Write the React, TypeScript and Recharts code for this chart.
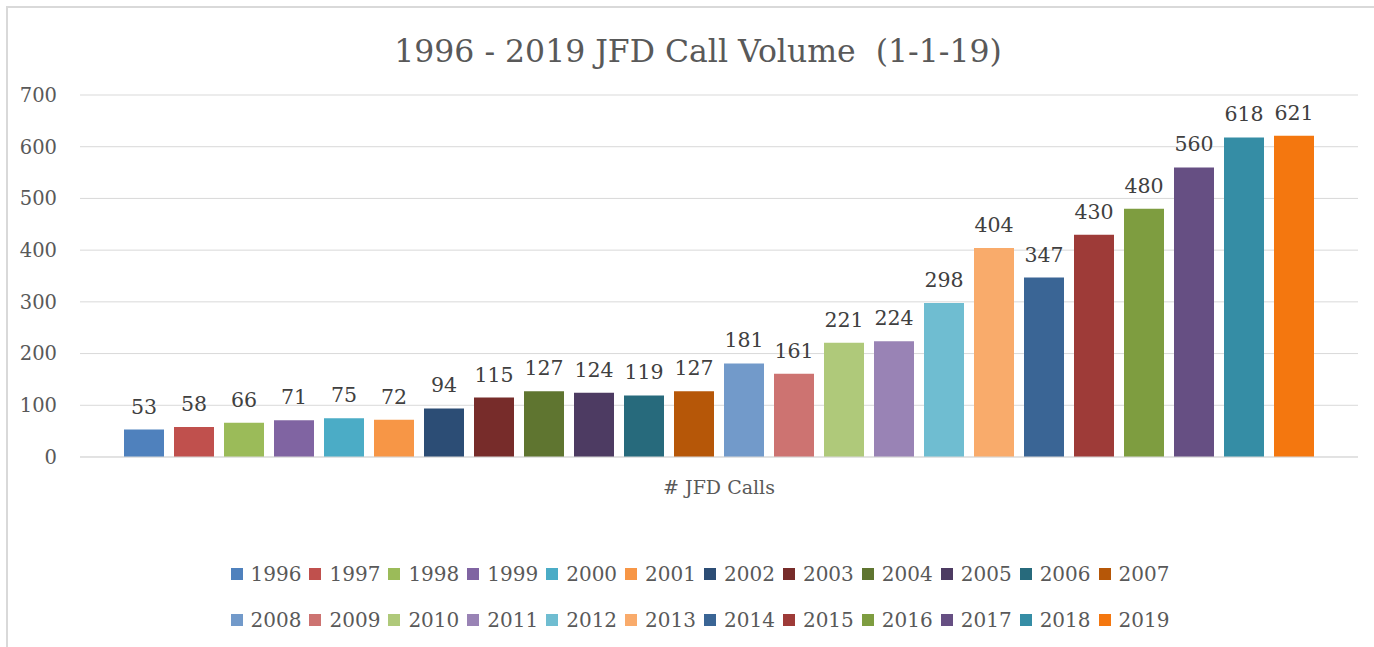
import React from 'react';
import { BarChart, Bar, XAxis, YAxis, CartesianGrid, LabelList } from 'recharts';

const years = [
  '1996', '1997', '1998', '1999', '2000', '2001', '2002', '2003', '2004', '2005', '2006', '2007',
  '2008', '2009', '2010', '2011', '2012', '2013', '2014', '2015', '2016', '2017', '2018', '2019',
];

const calls = [53, 58, 66, 71, 75, 72, 94, 115, 127, 124, 119, 127, 181, 161, 221, 224, 298, 404, 347, 430, 480, 560, 618, 621];

const colors = [
  '#4F81BD', '#C0504D', '#9BBB59', '#8064A2', '#4BACC6', '#F79646',
  '#2C4D75', '#772C2A', '#5F7530', '#4D3B62', '#276A7C', '#B65708',
  '#729ACA', '#CD7371', '#AFC97A', '#9983B5', '#6FBDD1', '#F9AB6B',
  '#3A6595', '#9E3B38', '#7E9D40', '#664F83', '#358DA5', '#F4770F',
];

const yTicks = [0, 100, 200, 300, 400, 500, 600, 700];

const category = '# JFD Calls';

const font = '"DejaVu Serif", serif';
const textColor = '#595959';

// one category row, one key per year
const row: Record<string, string | number> = { name: category };
years.forEach((y, i) => {
  row[y] = calls[i];
});
const data = [row];

export default function App() {
  return (
    <div
      style={{
        position: 'fixed',
        left: 0,
        top: 0,
        width: 1374,
        height: 647,
        overflow: 'hidden',
        background: '#fff',
        fontFamily: font,
      }}
    >
      <div
        style={{
          position: 'absolute',
          left: 6,
          top: 6,
          width: 1384,
          height: 700,
          border: '2px solid #d9d9d9',
          boxSizing: 'border-box',
        }}
      >
        {/* Title */}
        <div
          style={{
            position: 'absolute',
            left: 0,
            top: 26,
            width: 1380,
            textAlign: 'center',
            fontSize: 31.5,
            lineHeight: '34px',
            color: textColor,
            whiteSpace: 'pre',
          }}
        >
          {'1996 - 2019 JFD Call Volume  (1-1-19)'}
        </div>

        <div style={{ position: 'absolute', left: 0, top: 0 }}>
          <BarChart
            width={1380}
            height={560}
            data={data}
            margin={{ top: 87, right: 30, left: 0, bottom: 51 }}
            barSize={40}
            barGap={10}
          >
            <CartesianGrid vertical={false} stroke="#d9d9d9" strokeWidth={1} />
            <XAxis
              dataKey="name"
              axisLine={{ stroke: '#d9d9d9' }}
              tickLine={false}
              tickSize={0}
              tickMargin={24}
              height={60}
              tick={{ fontSize: 19, fill: textColor, fontFamily: font }}
            />
            <YAxis
              domain={[0, 700]}
              ticks={yTicks}
              width={72}
              axisLine={false}
              tickLine={false}
              tickSize={0}
              tickMargin={23}
              tick={{ fontSize: 19.5, fill: textColor, fontFamily: font }}
            />
            {years.map((y, i) => (
              <Bar key={y} dataKey={y} name={y} fill={colors[i]} isAnimationActive={false}>
                <LabelList
                  dataKey={y}
                  position="top"
                  offset={16}
                  style={{ fontSize: 20.5, fill: '#404040', fontFamily: font }}
                />
              </Bar>
            ))}
          </BarChart>
        </div>

        {/* Legend */}
        <div
          style={{
            position: 'absolute',
            left: 6,
            top: 552,
            width: 1380,
            display: 'flex',
            justifyContent: 'center',
          }}
        >
          <div style={{ width: 950, display: 'flex', flexWrap: 'wrap', justifyContent: 'center', rowGap: 18 }}>
            {years.map((y, i) => (
              <span
                key={y}
                style={{
                  display: 'inline-flex',
                  alignItems: 'center',
                  marginRight: 8,
                  height: 28,
                  fontSize: 20,
                  color: textColor,
                }}
              >
                <span style={{ width: 12, height: 12, background: colors[i], marginRight: 8, display: 'inline-block' }} />
                {y}
              </span>
            ))}
          </div>
        </div>
      </div>
    </div>
  );
}
